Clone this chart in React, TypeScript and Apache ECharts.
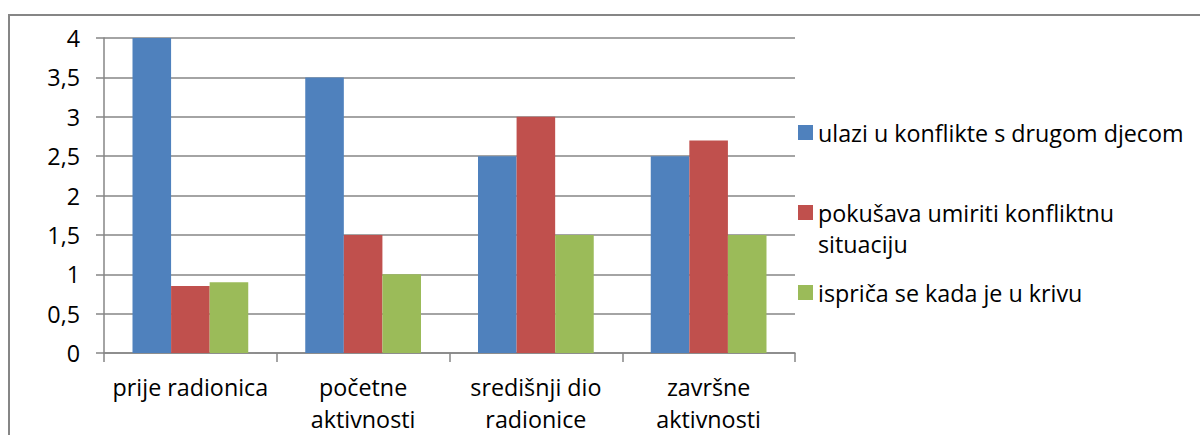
import React, { useEffect, useRef } from "react";
import * as echarts from "echarts";

const categories = [
  "prije radionica",
  "početne\naktivnosti",
  "središnji dio\nradionice",
  "završne\naktivnosti",
];
const seriesNames = [
  "ulazi u konflikte s drugom djecom",
  "pokušava umiriti konfliktnu situaciju",
  "ispriča se kada je u krivu",
];
const blueValues = [4, 3.5, 2.5, 2.5];
const redValues = [0.85, 1.5, 3, 2.7];
const greenValues = [0.9, 1, 1.5, 1.5];
const colors = ["#4f81bd", "#c0504d", "#9bbb59"];

const FONT = "'Open Sans', sans-serif";
const GRAY = "#868686";

export default function App() {
  const ref = useRef<HTMLDivElement>(null);
  useEffect(() => {
    if (!ref.current) return;
    const chart = echarts.init(ref.current, undefined, { renderer: "svg" });
    const legendBase = {
      orient: "vertical" as const,
      left: 798,
      padding: 0,
      itemWidth: 15,
      itemHeight: 15,
      icon: "rect",
      selectedMode: false,
      textStyle: { fontFamily: FONT, fontSize: 23.3, color: "#000", lineHeight: 31 },
    };
    chart.setOption({
      animation: false,
      color: colors,
      textStyle: { fontFamily: FONT },
      graphic: [
        {
          type: "rect",
          shape: { x: 9, y: 15, width: 1400, height: 600 },
          style: { fill: "none", stroke: GRAY, lineWidth: 2 },
          silent: true,
        },
      ],
      grid: { left: 104, top: 38, right: 405, bottom: 82, containLabel: false },
      legend: [
        { ...legendBase, top: 117, data: [seriesNames[0]] },
        {
          ...legendBase,
          top: 166,
          data: [seriesNames[1]],
          formatter: (n: string) => "\n" + n.replace(" situaciju", "\nsituaciju"),
        },
        { ...legendBase, top: 277, data: [seriesNames[2]] },
      ],
      xAxis: {
        type: "category",
        data: categories,
        axisLine: { show: true, lineStyle: { color: GRAY, width: 1.5 } },
        axisTick: { show: true, length: 9, lineStyle: { color: GRAY, width: 1.5 } },
        axisLabel: {
          fontFamily: FONT,
          fontSize: 23.3,
          color: "#000",
          lineHeight: 32,
          margin: 18,
          interval: 0,
        },
      },
      yAxis: {
        type: "value",
        min: 0,
        max: 4,
        interval: 0.5,
        axisLine: { show: true, lineStyle: { color: GRAY, width: 1.5 } },
        axisTick: { show: true, length: 8, lineStyle: { color: GRAY, width: 1.5 } },
        splitLine: { show: true, lineStyle: { color: GRAY, width: 1.5 } },
        axisLabel: {
          fontFamily: FONT,
          fontSize: 23.3,
          color: "#000",
          margin: 24,
          formatter: (v: number) => String(v).replace(".", ","),
        },
      },
      series: [
        { name: seriesNames[0], type: "bar", data: blueValues, barGap: 0, barCategoryGap: "33%" },
        { name: seriesNames[1], type: "bar", data: redValues, barGap: 0, barCategoryGap: "33%" },
        { name: seriesNames[2], type: "bar", data: greenValues, barGap: 0, barCategoryGap: "33%" },
      ],
    });
    return () => chart.dispose();
  }, []);
  return (
    <div
      ref={ref}
      style={{ position: "absolute", left: 0, top: 0, width: 1200, height: 435, background: "#fff" }}
    />
  );
}
